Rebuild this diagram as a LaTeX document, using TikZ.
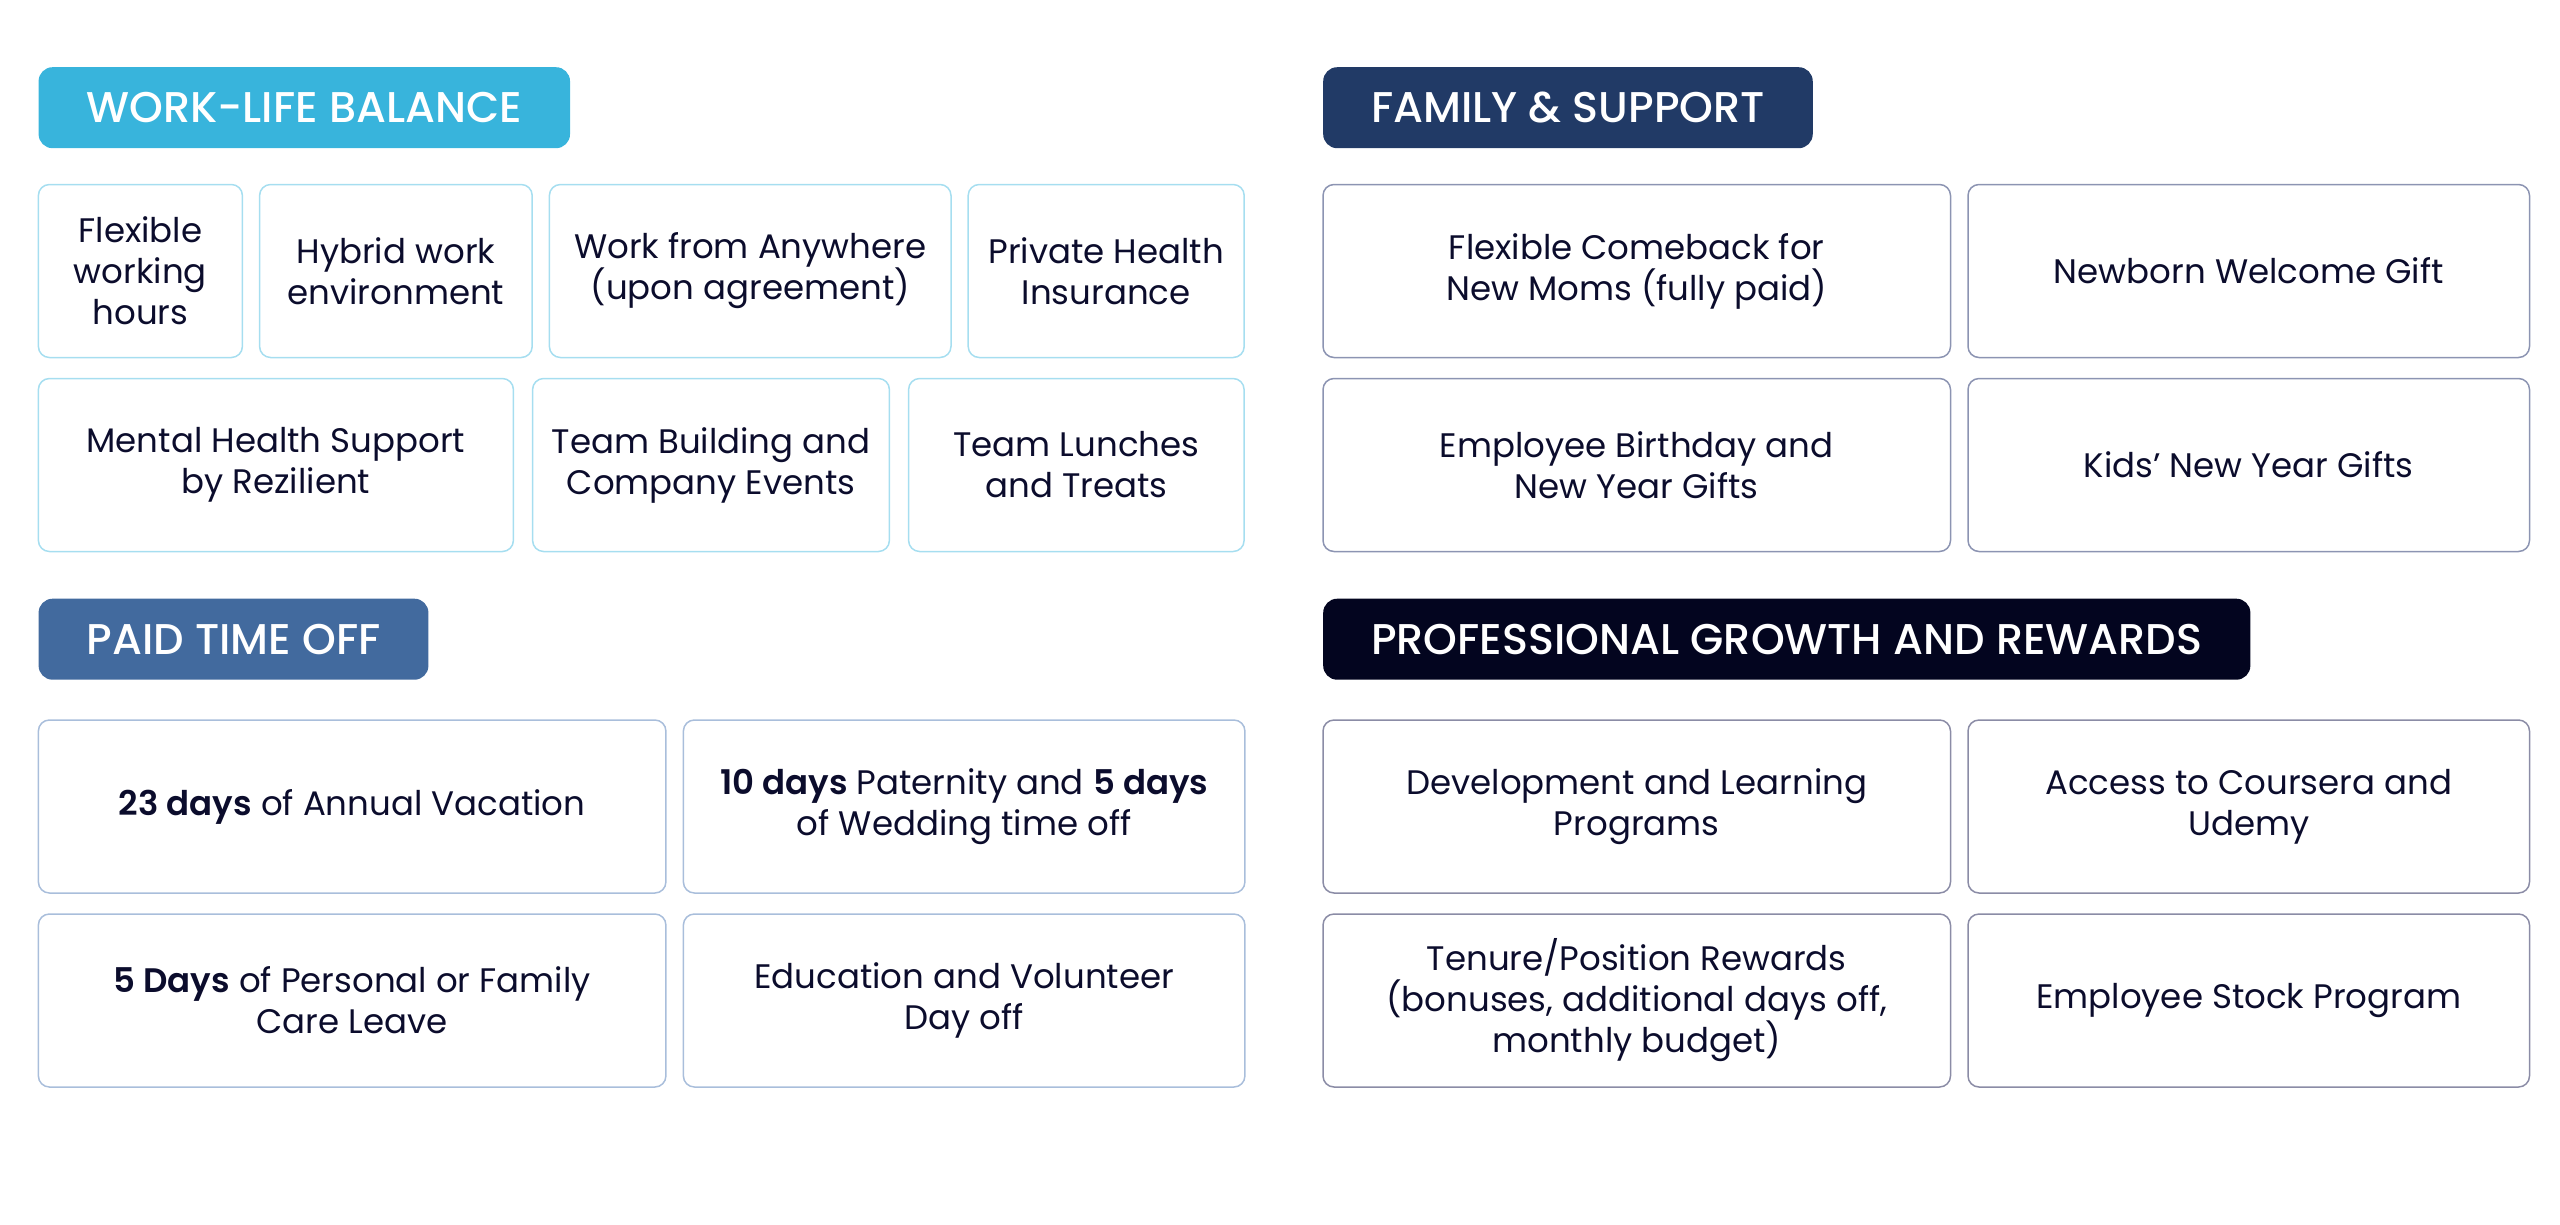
\documentclass[tikz,border=0pt]{standalone}
\usepackage{fontspec}
\setmainfont{Poppins}[BoldFont={Poppins SemiBold}]
\newfontface\headfont{Poppins Medium}
\usepackage{tikz}
\usetikzlibrary{positioning}

\definecolor{ink}{HTML}{0B0C2C}
\definecolor{wlbfill}{HTML}{38B4DC}
\definecolor{wlbline}{HTML}{A6DEF0}
\definecolor{famfill}{HTML}{213A66}
\definecolor{famline}{HTML}{8C94B2}
\definecolor{ptofill}{HTML}{426A9E}
\definecolor{ptoline}{HTML}{A9BEDB}
\definecolor{pgrfill}{HTML}{03051F}
\definecolor{pgrline}{HTML}{8B8CA6}

\begin{document}
\begin{tikzpicture}[
    x=1pt, y=-1pt,
    font=\fontsize{34}{41}\selectfont,
    header/.style = {
        rectangle, fill=#1, rounded corners=14pt, text=white,
        inner xsep=48pt, inner ysep=0pt, minimum height=81pt,
        font=\headfont\fontsize{43}{50}\selectfont, anchor=north west
    },
    card/.style = {
        rectangle, draw=#1, rounded corners=11pt, line width=1.5pt,
        minimum height=173pt, inner sep=0pt, outer sep=0pt,
        align=center, text=ink
    },
]
\useasboundingbox (0,0) rectangle (2560,1224);

% Work-life balance
\node[header=wlbfill] (wlb) at (38.4,67) {WORK-LIFE BALANCE};
\node[card=wlbline, minimum width=204pt, anchor=north west] (flex) at (38.4,184.5)
    {Flexible\\working\\hours};
\node[card=wlbline, minimum width=272.6pt, right=17.2pt of flex] (hybrid)
    {Hybrid work\\environment};
\node[card=wlbline, minimum width=401.6pt, right=17.2pt of hybrid] (anywhere)
    {Work from Anywhere\\(upon agreement)};
\node[card=wlbline, minimum width=276pt, right=17.2pt of anywhere] (health)
    {Private Health\\Insurance};
\node[card=wlbline, minimum width=475pt, below=21pt of flex.south west, anchor=north west] (mental)
    {Mental Health Support\\by Rezilient};
\node[card=wlbline, minimum width=356.8pt, right=19.2pt of mental] (events)
    {Team Building and\\Company Events};
\node[card=wlbline, minimum width=335.5pt, right=19.2pt of events] (lunches)
    {Team Lunches\\and Treats};

% Family & support
\node[header=famfill] (fam) at (1323,67) {FAMILY \& SUPPORT};
\node[card=famline, minimum width=627.5pt, anchor=north west] (comeback) at (1323,184.5)
    {Flexible Comeback for\\New Moms (fully paid)};
\node[card=famline, minimum width=561.5pt, right=17.5pt of comeback] (newborn)
    {Newborn Welcome Gift};
\node[card=famline, minimum width=627.5pt, below=21pt of comeback] (birthday)
    {Employee Birthday and\\New Year Gifts};
\node[card=famline, minimum width=561.5pt, right=17.5pt of birthday] (kids)
    {Kids’ New Year Gifts};

% Paid time off
\node[header=ptofill] (pto) at (38.4,598.5) {PAID TIME OFF};
\node[card=ptoline, minimum width=627.5pt, anchor=north west] (vacation) at (38.4,720)
    {\textbf{23 days} of Annual Vacation};
\node[card=ptoline, minimum width=561.5pt, right=17.5pt of vacation] (paternity)
    {\textbf{10 days} Paternity and \textbf{5 days}\\of Wedding time off};
\node[card=ptoline, minimum width=627.5pt, below=21pt of vacation] (care)
    {\textbf{5 Days} of Personal or Family\\Care Leave};
\node[card=ptoline, minimum width=561.5pt, right=17.5pt of care] (volunteer)
    {Education and Volunteer\\Day off};

% Professional growth and rewards
\node[header=pgrfill] (pgr) at (1323,598.5) {PROFESSIONAL GROWTH AND REWARDS};
\node[card=pgrline, minimum width=627.5pt, anchor=north west] (learning) at (1323,720)
    {Development and Learning\\Programs};
\node[card=pgrline, minimum width=561.5pt, right=17.5pt of learning] (coursera)
    {Access to Coursera and\\Udemy};
\node[card=pgrline, minimum width=627.5pt, below=21pt of learning] (tenure)
    {Tenure/Position Rewards\\(bonuses, additional days off,\\monthly budget)};
\node[card=pgrline, minimum width=561.5pt, right=17.5pt of tenure] (stock)
    {Employee Stock Program};

\end{tikzpicture}
\end{document}
